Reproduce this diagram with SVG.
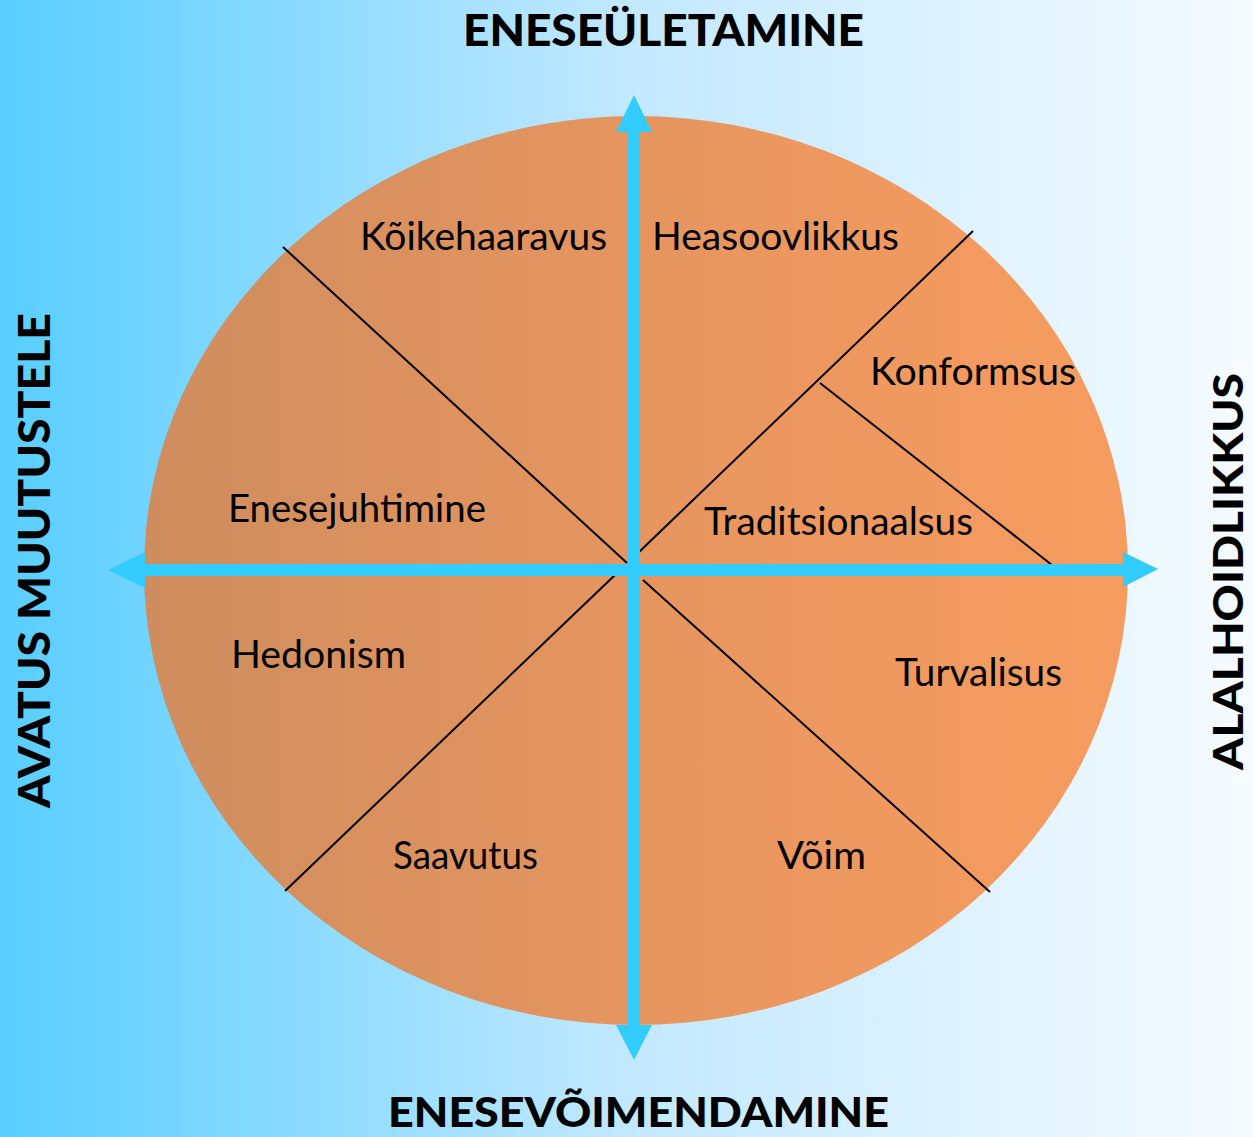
<svg xmlns="http://www.w3.org/2000/svg" width="1253" height="1137" viewBox="0 0 1253 1137">
<defs>
<linearGradient id="bg" x1="0" y1="0" x2="1" y2="0">
<stop offset="0" stop-color="#58CEFF"/>
<stop offset="0.5" stop-color="#C2E8FF"/>
<stop offset="1" stop-color="#F6FBFF"/>
</linearGradient>
<linearGradient id="disc" x1="0" y1="0" x2="1" y2="0">
<stop offset="0" stop-color="#CE8D5E"/>
<stop offset="0.5" stop-color="#E6955F"/>
<stop offset="1" stop-color="#F79C5F"/>
</linearGradient>
<style>
.lbl{font-family:"Lato","Liberation Sans",sans-serif;font-size:38px;fill:#000}
.hd{font-family:"Lato","Liberation Sans",sans-serif;font-size:44px;font-weight:900;fill:#000}
.hd2{font-family:"Lato","Liberation Sans",sans-serif;font-size:41px;font-weight:900;fill:#000}
.div{stroke:#000;stroke-width:2;fill:none}
.ax{fill:#33CCFF}
</style>
</defs>
<rect x="0" y="0" width="1253" height="1137" fill="url(#bg)"/>
<g id="wheel">
<ellipse cx="636" cy="570.5" rx="492" ry="454.5" fill="url(#disc)"/>
</g>
<g id="connectors">
<line class="div" x1="283" y1="247" x2="627" y2="563"/>
<line class="div" x1="973" y1="231" x2="638" y2="553"/>
<line class="div" x1="820" y1="383" x2="1057" y2="569"/>
<line class="div" x1="285" y1="891" x2="615" y2="575"/>
<line class="div" x1="643" y1="580" x2="990" y2="892"/>
<rect class="ax" x="628" y="130" width="12" height="897"/>
<rect class="ax" x="143" y="564" width="982" height="12"/>
<polygon class="ax" points="634,95 616,132 652,132"/>
<polygon class="ax" points="634,1060 616,1025 652,1025"/>
<polygon class="ax" points="1158,569 1123,552 1123,587"/>
<polygon class="ax" points="108,570 145,552 145,588"/>
</g>
<g id="n-koikehaaravus"><text class="lbl" x="360" y="250" textLength="247" lengthAdjust="spacingAndGlyphs">Kõikehaaravus</text></g>
<g id="n-heasoovlikkus"><text class="lbl" x="652" y="250" textLength="247" lengthAdjust="spacingAndGlyphs">Heasoovlikkus</text></g>
<g id="n-konformsus"><text class="lbl" x="870" y="385" textLength="206" lengthAdjust="spacingAndGlyphs">Konformsus</text></g>
<g id="n-traditsionaalsus"><text class="lbl" x="704" y="535" textLength="269" lengthAdjust="spacingAndGlyphs">Traditsionaalsus</text></g>
<g id="n-enesejuhtimine"><text class="lbl" x="228" y="522" textLength="258" lengthAdjust="spacingAndGlyphs">Enesejuhtimine</text></g>
<g id="n-hedonism"><text class="lbl" x="231" y="668" textLength="175" lengthAdjust="spacingAndGlyphs">Hedonism</text></g>
<g id="n-turvalisus"><text class="lbl" x="895" y="686" textLength="167" lengthAdjust="spacingAndGlyphs">Turvalisus</text></g>
<g id="n-saavutus"><text class="lbl" x="393" y="869" textLength="145" lengthAdjust="spacingAndGlyphs">Saavutus</text></g>
<g id="n-voim"><text class="lbl" x="777" y="869" textLength="89" lengthAdjust="spacingAndGlyphs">Võim</text></g>
<g id="h-top"><text class="hd" x="463" y="46" textLength="401" lengthAdjust="spacingAndGlyphs">ENESEÜLETAMINE</text></g>
<g id="h-bottom"><text class="hd2" x="388" y="1127" textLength="501" lengthAdjust="spacingAndGlyphs">ENESEVÕIMENDAMINE</text></g>
<g id="h-left"><text class="hd" transform="translate(50,808) rotate(-90)" x="0" y="0" textLength="495" lengthAdjust="spacingAndGlyphs">AVATUS MUUTUSTELE</text></g>
<g id="h-right"><text class="hd2" transform="translate(1243,770) rotate(-90)" x="0" y="0" textLength="397" lengthAdjust="spacingAndGlyphs">ALALHOIDLIKKUS</text></g>
</svg>
